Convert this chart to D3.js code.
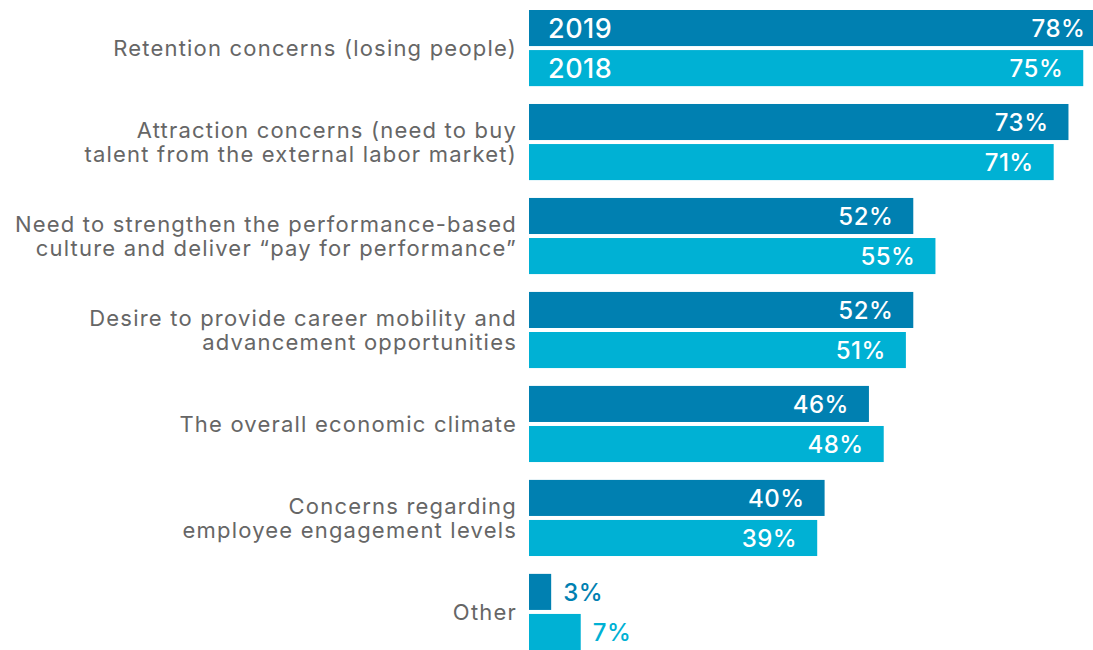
<!DOCTYPE html>
<html>
<head>
<meta charset="utf-8">
<script src="https://cdn.jsdelivr.net/npm/d3@7"></script>
<style>
  body { margin: 0; background: #fff; }
  svg { display: block; }
  .cat { fill: #666; font-family: Inter, "Open Sans", sans-serif; font-size: 22px; letter-spacing: 1.2px; }
  .val { font-family: Inter, "Open Sans", sans-serif; font-size: 24px; font-weight: 500; letter-spacing: 0.5px; }
  .yr { fill: #fff; font-family: Inter, "Open Sans", sans-serif; font-size: 27px; font-weight: 500; letter-spacing: 0.5px; }
</style>
</head>
<body>
<svg class="chart"></svg>
<script>
let categories = [
    ["Retention concerns (losing people)"],
    ["Attraction concerns (need to buy", "talent from the external labor market)"],
    ["Need to strengthen the performance-based", "culture and deliver \u201cpay for performance\u201d"],
    ["Desire to provide career mobility and", "advancement opportunities"],
    ["The overall economic climate"],
    ["Concerns regarding", "employee engagement levels"],
    ["Other"]
]
let years = ["2019", "2018"]
let values2019 = [78, 73, 52, 52, 46, 40, 3]
let values2018 = [75, 71, 55, 51, 48, 39, 7]

let width = 1093,
    height = 650,
    left = 529

let colors = { "2019": "#0080b1", "2018": "#00b1d4" }

let data = categories.map((c, i) => {
    return { key: i, lines: c, vals: [
        { year: "2019", v: values2019[i] },
        { year: "2018", v: values2018[i] }
    ] }
})

let svg = d3.select(".chart")
    .attr("width", width)
    .attr("height", height)

// set the ranges
let y0 = d3.scaleBand()
    .domain(data.map(d => d.key))
    .range([10, 650])
    .paddingInner(0.19)
    .paddingOuter(0)

let y1 = d3.scaleBand()
    .domain(years)
    .range([0, y0.bandwidth()])
    .paddingInner(0.1)

let x = d3.scaleLinear()
    .domain([0, 100])
    .range([left, left + 739])

let group = svg.selectAll(".group")
    .data(data)
    .enter().append("g")
    .attr("class", "group")
    .attr("transform", d => "translate(0," + y0(d.key) + ")")

// category labels, right aligned next to the bars
group.append("text")
    .attr("class", "cat")
    .attr("text-anchor", "end")
    .attr("x", left - 13)
    .attr("y", d => y0.bandwidth() / 2 - (d.lines.length - 1) * 12)
    .selectAll("tspan")
    .data(d => d.lines)
    .enter().append("tspan")
    .attr("x", left - 12)
    .attr("dy", (d, i) => i == 0 ? "0.36em" : 24)
    .text(d => d)

let bar = group.selectAll(".bar")
    .data(d => d.vals)
    .enter().append("g")
    .attr("class", "bar")
    .attr("transform", d => "translate(0," + y1(d.year) + ")")

bar.append("rect")
    .attr("x", x(0))
    .attr("height", y1.bandwidth())
    .attr("width", d => x(d.v) - x(0))
    .attr("fill", d => colors[d.year])

// values: inside the bar if it is wide enough, outside otherwise
bar.append("text")
    .attr("class", "val")
    .attr("y", y1.bandwidth() / 2)
    .attr("dy", "0.36em")
    .attr("text-anchor", d => d.v > 10 ? "end" : "start")
    .attr("x", d => d.v > 10 ? x(d.v) - 20 : x(d.v) + 12)
    .attr("fill", d => d.v > 10 ? "#fff" : colors[d.year])
    .text(d => d.v + "%")

// year legend inside the first pair of bars
svg.selectAll(".yr")
    .data(years)
    .enter().append("text")
    .attr("class", "yr")
    .attr("x", left + 19)
    .attr("y", d => y0(0) + y1(d) + y1.bandwidth() / 2)
    .attr("dy", "0.36em")
    .text(d => d)
</script>
</body>
</html>
